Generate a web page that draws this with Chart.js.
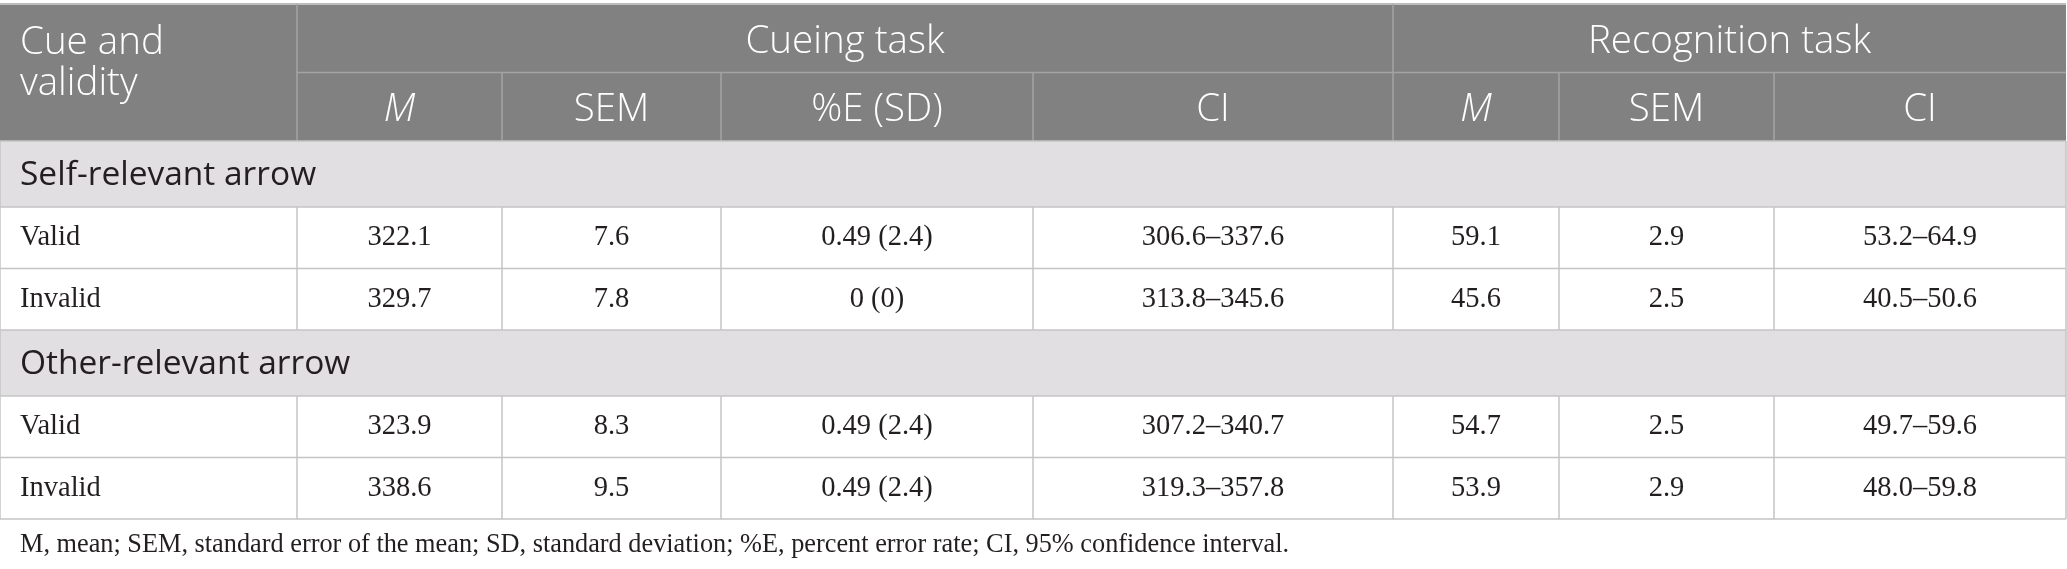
<!DOCTYPE html>
<html>
<head>
<meta charset="utf-8">
<script src="https://cdn.jsdelivr.net/npm/chart.js@4.4.1/dist/chart.umd.min.js"></script>
<style>
  html, body { margin: 0; padding: 0; background: #fff; }
  #wrap { width: 2067px; height: 569px; }
</style>
</head>
<body>
<div id="wrap"><canvas id="tableChart" width="2067" height="569"></canvas></div>
<script>
// table content
const cueLabels = ['Self-relevant arrow', 'Other-relevant arrow'];
const validityLabels = ['Valid', 'Invalid'];
const groupHeaders = ['Cueing task', 'Recognition task'];
const subHeaders = ['M', 'SEM', '%E (SD)', 'CI', 'M', 'SEM', 'CI'];
const cueingM = [322.1, 329.7, 323.9, 338.6];
const cueingSEM = [7.6, 7.8, 8.3, 9.5];
const cueingErr = ['0.49 (2.4)', '0 (0)', '0.49 (2.4)', '0.49 (2.4)'];
const cueingCI = ['306.6–337.6', '313.8–345.6', '307.2–340.7', '319.3–357.8'];
const recogM = [59.1, 45.6, 54.7, 53.9];
const recogSEM = [2.9, 2.5, 2.5, 2.9];
const recogCI = ['53.2–64.9', '40.5–50.6', '49.7–59.6', '48.0–59.8'];
const footnote = 'M, mean; SEM, standard error of the mean; SD, standard deviation; %E, percent error rate; CI, 95% confidence interval.';

// layout (in scale units)
const colEdges = [0, 297, 502, 721, 1033, 1393, 1559, 1774, 2066];
const headTop = 4, headMid = 72.5, headBottom = 141;
const sectionH = 66, rowH = 61.5;

const HEAD_BG = '#808180';
const HEAD_LINE = '#a3a4a3';
const BAND_BG = '#e1dfe1';
const GRID = '#c4c4c4';
const INK = '#231f20';
const SANS = '"Open Sans", "Noto Sans", sans-serif';
const SERIF = '"Liberation Serif", "DejaVu Serif", serif';

function fmt(v) { return typeof v === 'number' ? v.toFixed(1) : v; }

const tablePlugin = {
  id: 'tableDraw',
  afterDraw(chart) {
    const ctx = chart.ctx;
    const xs = chart.scales.x, ys = chart.scales.y;
    const X = v => xs.getPixelForValue(v);
    const Y = v => ys.getPixelForValue(v);

    const rect = (x0, y0, x1, y1, c) => {
      ctx.fillStyle = c;
      ctx.fillRect(X(x0), Y(y0), X(x1) - X(x0), Y(y1) - Y(y0));
    };
    const hline = (x0, x1, y, c, w) => {
      ctx.strokeStyle = c; ctx.lineWidth = w || 1.5;
      ctx.beginPath(); ctx.moveTo(X(x0), Y(y)); ctx.lineTo(X(x1), Y(y)); ctx.stroke();
    };
    const vline = (x, y0, y1, c, w) => {
      ctx.strokeStyle = c; ctx.lineWidth = w || 1.5;
      ctx.beginPath(); ctx.moveTo(X(x), Y(y0)); ctx.lineTo(X(x), Y(y1)); ctx.stroke();
    };
    const text = (s, x, y, font, color, align) => {
      ctx.font = font; ctx.fillStyle = color;
      ctx.textAlign = align || 'center'; ctx.textBaseline = 'middle';
      ctx.fillText(s, X(x), Y(y));
    };

    ctx.save();
    // header block
    rect(colEdges[0], headTop, colEdges[8], headBottom, HEAD_BG);
    hline(colEdges[0], colEdges[8], headTop, '#bdbdbd', 2);
    hline(colEdges[1], colEdges[8], headMid, HEAD_LINE);
    vline(colEdges[1], headTop, headBottom, HEAD_LINE);
    vline(colEdges[5], headTop, headBottom, HEAD_LINE);
    [2, 3, 4, 6, 7].forEach(i => vline(colEdges[i], headMid, headBottom, HEAD_LINE));

    const hf = '300 38.5px ' + SANS;
    text('Cue and', 20, 43, hf, '#fff', 'left');
    text('validity', 20, 84, hf, '#fff', 'left');
    text(groupHeaders[0], (colEdges[1] + colEdges[5]) / 2, 42.5, hf, '#fff');
    text(groupHeaders[1], (colEdges[5] + colEdges[8]) / 2, 42.5, hf, '#fff');
    subHeaders.forEach((h, i) => {
      const f = h === 'M' ? 'italic ' + hf : hf;
      text(h, (colEdges[i + 1] + colEdges[i + 2]) / 2, 110, f, '#fff');
    });

    // body
    const bf = '28.5px ' + SERIF;
    let y = headBottom;
    let r = 0;
    cueLabels.forEach(cue => {
      rect(colEdges[0], y, colEdges[8], y + sectionH, BAND_BG);
      text(cue, 20, y + sectionH / 2 + 1.5, '33.5px ' + SANS, INK, 'left');
      hline(colEdges[0], colEdges[8], y, GRID);
      y += sectionH;
      validityLabels.forEach(v => {
        hline(colEdges[0], colEdges[8], y, GRID);
        const cy = y + rowH / 2;
        text(v, 20, cy, bf, INK, 'left');
        const cells = [cueingM[r], cueingSEM[r], cueingErr[r], cueingCI[r], recogM[r], recogSEM[r], recogCI[r]];
        cells.forEach((c, i) => text(fmt(c), (colEdges[i + 1] + colEdges[i + 2]) / 2, cy, bf, INK));
        for (let i = 1; i < 8; i++) vline(colEdges[i], y, y + rowH, GRID);
        y += rowH;
        r++;
      });
    });
    hline(colEdges[0], colEdges[8], y, GRID);
    // outer sides of the body
    vline(colEdges[0], headBottom, y, GRID);
    vline(colEdges[8], headBottom, y, GRID);

    text(footnote, 20, 545, '26.3px ' + SERIF, INK, 'left');
    ctx.restore();
  }
};

new Chart(document.getElementById('tableChart').getContext('2d'), {
  type: 'scatter',
  data: { datasets: [{ data: [], pointRadius: 0 }] },
  options: {
    responsive: false,
    animation: false,
    devicePixelRatio: 1,
    layout: { padding: 0 },
    scales: {
      x: { type: 'linear', min: 0, max: 2067, display: false },
      y: { type: 'linear', min: 0, max: 569, reverse: true, display: false }
    },
    plugins: { legend: { display: false }, tooltip: { enabled: false } }
  },
  plugins: [tablePlugin]
});
</script>
</body>
</html>
